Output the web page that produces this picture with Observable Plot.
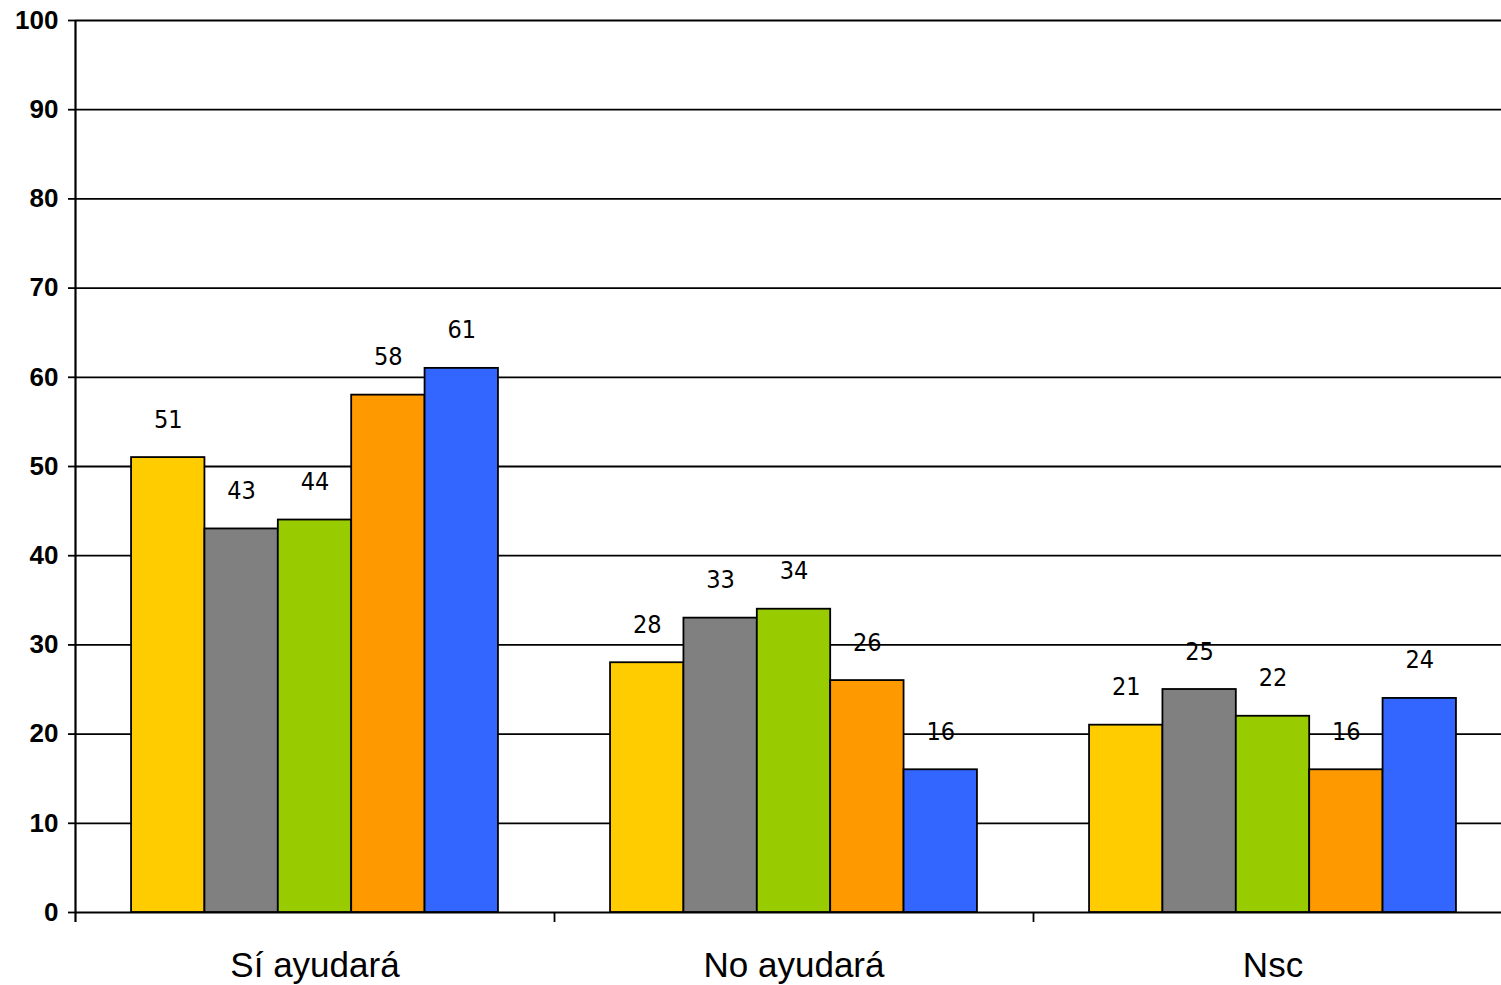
<!DOCTYPE html>
<html><head><meta charset="utf-8">
<script src="https://cdn.jsdelivr.net/npm/d3@7"></script>
<script src="https://cdn.jsdelivr.net/npm/@observablehq/plot@0.6"></script>
<style>
html,body{margin:0;padding:0;background:#fff;overflow:hidden}
#chart{width:1501px;height:985px;overflow:hidden}
#chart svg{max-width:none !important}
#chart g[aria-label="y-axis tick label"] text{font-weight:bold}
</style>
</head><body><div id="chart"></div>
<script>
const categories = ["Sí ayudará", "No ayudará", "Nsc"];
const series = ["Serie 1", "Serie 2", "Serie 3", "Serie 4", "Serie 5"];
const serie1 = [51, 28, 21];
const serie2 = [43, 33, 25];
const serie3 = [44, 34, 22];
const serie4 = [58, 26, 16];
const serie5 = [61, 16, 24];
const colors = ["#FFCC00", "#808080", "#99CC00", "#FF9900", "#3366FF"];
const yTicks = [0, 10, 20, 30, 40, 50, 60, 70, 80, 90, 100];

const seriesValues = [serie1, serie2, serie3, serie4, serie5];
const inner = d3.scaleBand().domain(series).range([0, 1]).paddingInner(0).paddingOuter(0.764);
const rows = [];
categories.forEach((c, ci) => {
  series.forEach((s, si) => {
    const x1 = ci + inner(s);
    rows.push({category: c, series: s, value: seriesValues[si][ci], x1, x2: x1 + inner.bandwidth()});
  });
});

const narrow = "'Liberation Sans Narrow', 'DejaVu Sans Condensed', 'Liberation Sans', sans-serif";

const chart = Plot.plot({
  width: 1512,
  height: 985,
  marginTop: 20,
  marginBottom: 73,
  marginLeft: 75,
  marginRight: 0,
  style: {fontFamily: "'Liberation Sans', Arial, sans-serif", background: "#fff", color: "#000", maxWidth: "none"},
  x: {domain: [0, 3]},
  y: {domain: [0, 100]},
  color: {domain: series, range: colors},
  marks: [
    Plot.ruleY(yTicks, {stroke: "#000", strokeWidth: 1.8}),
    Plot.rectY(rows, {x1: "x1", x2: "x2", y1: 0, y2: "value", fill: "series", stroke: "#000", strokeWidth: 1.8}),
    Plot.text(rows, {x: d => (d.x1 + d.x2) / 2, y: "value", text: d => String(d.value), dy: -38,
      fontSize: 25, fontFamily: narrow, fill: "#000"}),
    Plot.ruleX([0], {stroke: "#000", strokeWidth: 2.2, insetBottom: -10}),
    Plot.axisX({ticks: [1, 2, 3], tickSize: 10, tickFormat: () => "", strokeWidth: 1.8}),
    Plot.axisX({ticks: [0.5, 1.5, 2.5], tickSize: 0, tickPadding: 40, fontSize: 35,
      tickFormat: d => categories[Math.floor(d)], label: null}),
    Plot.axisY({ticks: yTicks, tickSize: 7, tickPadding: 10, fontSize: 26, fontWeight: "bold",
      strokeWidth: 1.8, label: null})
  ]
});
document.getElementById("chart").appendChild(chart);
</script>
</body></html>
